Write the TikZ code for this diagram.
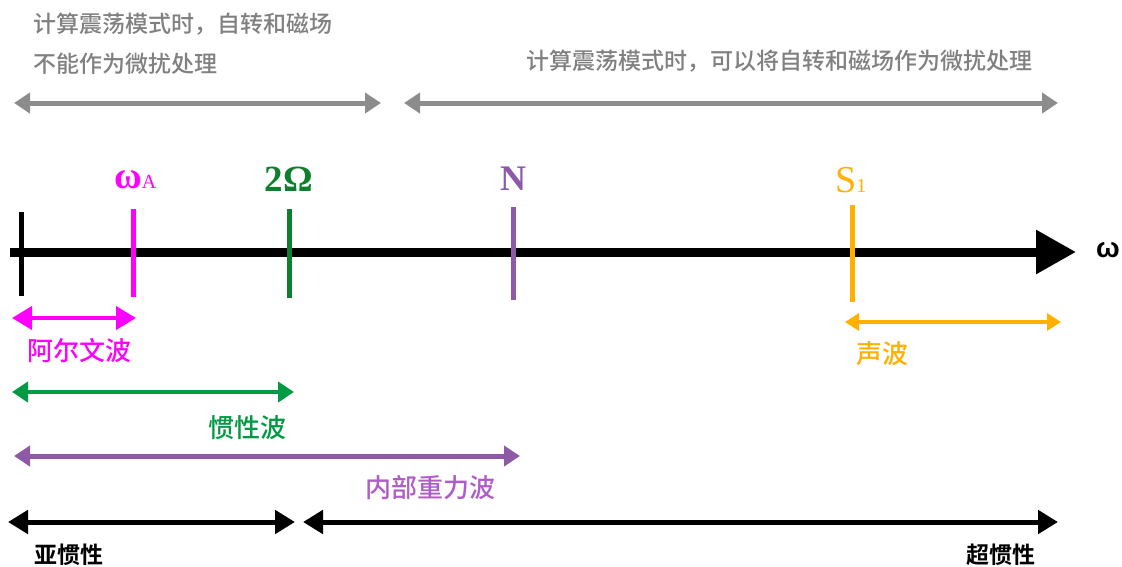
\documentclass[tikz,border=0pt]{standalone}
\usepackage{fontspec}
\setmainfont{Liberation Serif}
\newfontfamily\cjk{Noto Sans CJK SC}[UprightFont={* Medium},BoldFont={* Bold}]
\newfontfamily\lsans{Liberation Sans}
\usetikzlibrary{arrows.meta}
\definecolor{greytxt}{HTML}{808080}
\definecolor{greyarr}{HTML}{8C8C8C}
\definecolor{mag}{HTML}{FF00FF}
\definecolor{grn}{HTML}{0E7F2C}
\definecolor{grnarr}{HTML}{009A44}
\definecolor{pur}{HTML}{8E5AA8}
\definecolor{purtxt}{HTML}{B05CC8}
\definecolor{org}{HTML}{FFB000}
\begin{document}
\begin{tikzpicture}[x=1pt,y=-1pt,
  cjklab/.style={inner sep=0pt,anchor=west,font=\cjk\fontsize{26}{26}\selectfont},
  greylab/.style={inner sep=0pt,anchor=west,text=greytxt,font=\cjk\fontsize{23}{23}\selectfont},
  blacklab/.style={inner sep=0pt,anchor=west,font=\cjk\bfseries\fontsize{23}{23}\selectfont},
  ticklab/.style={inner sep=0pt,font=\fontsize{38}{38}\selectfont},
  tickline/.style={line width=5pt},
  span/.style={line width=#1},
  tipS/.style={arrows={Triangle[length=16pt,width=20pt]-Triangle[length=16pt,width=20pt]}},
  tipM/.style={arrows={Triangle[length=20pt,width=23pt]-Triangle[length=20pt,width=23pt]}},
  tipO/.style={arrows={Triangle[length=14pt,width=17pt]-Triangle[length=14pt,width=17pt]}}
]
\useasboundingbox (0,0) rectangle (1122,566);

% grey header texts
\node[greylab] (g1) at (33,24) {计算震荡模式时，自转和磁场};
\node[greylab] (g2) at (33,64) {不能作为微扰处理};
\node[greylab] (g3) at (526,61) {计算震荡模式时，可以将自转和磁场作为微扰处理};

% grey arrows
\coordinate (ga1) at (14,103);
\coordinate (ga2) at (381,103);
\coordinate (gb1) at (404,103);
\coordinate (gb2) at (1058,103);
\draw[span=5pt,greyarr,tipS] (ga1) -- (ga2);
\draw[span=5pt,greyarr,tipS] (gb1) -- (gb2);

% main axis
\coordinate (ax0) at (10,252);
\coordinate (ax1) at (1076,252);
\draw[line width=9pt,arrows={-Triangle[length=40pt,width=42pt]}] (ax0) -- (ax1);
\node[inner sep=0pt,font=\lsans\bfseries\fontsize{28}{28}\selectfont] (om) at (1108,250) {ω};

% ticks
\coordinate (t0a) at (21,212); \coordinate (t0b) at (21,296);
\coordinate (t1a) at (133,209); \coordinate (t1b) at (133,297);
\coordinate (t2a) at (289,209); \coordinate (t2b) at (289,298);
\coordinate (t3a) at (513,207); \coordinate (t3b) at (513,300);
\coordinate (t4a) at (852,205); \coordinate (t4b) at (852,302);
\draw[tickline,black] (t0a) -- (t0b);
\draw[tickline,mag] (t1a) -- (t1b);
\draw[tickline,grn] (t2a) -- (t2b);
\draw[tickline,pur] (t3a) -- (t3b);
\draw[tickline,org] (t4a) -- (t4b);

% tick labels
\node[ticklab,text=mag,anchor=base west] (wA) at (114,188) {\textbf{ω}\fontsize{20}{20}\selectfont A};
\node[ticklab,text=grn,anchor=base,font=\bfseries\fontsize{37}{37}\selectfont] (Om) at (289,191) {2Ω};
\node[ticklab,text=pur,anchor=base,font=\bfseries\fontsize{36}{36}\selectfont] (Nl) at (513,190) {N};
\node[ticklab,text=org,anchor=base west] (S1) at (835,192) {S\fontsize{20}{20}\selectfont 1};

% Alfven
\coordinate (a1) at (12,318); \coordinate (a2) at (136,318);
\draw[span=4pt,mag,tipM] (a1) -- (a2);
\node[cjklab,text=mag] (alf) at (27,351) {阿尔文波};

% sound
\coordinate (s1) at (845,322); \coordinate (s2) at (1061,322);
\draw[span=4pt,org,tipO] (s1) -- (s2);
\node[cjklab,text=org] (snd) at (856,354) {声波};

% inertial
\coordinate (i1) at (12,392); \coordinate (i2) at (294,392);
\draw[span=4pt,grnarr,tipS] (i1) -- (i2);
\node[cjklab,text=grnarr] (inr) at (208,428) {惯性波};

% internal gravity
\coordinate (p1) at (14,456); \coordinate (p2) at (520,456);
\draw[span=5pt,pur,tipS] (p1) -- (p2);
\node[cjklab,text=purtxt] (igw) at (365,488) {内部重力波};

% sub/super inertial
\coordinate (b1) at (8,522); \coordinate (b2) at (295,522);
\coordinate (c1) at (303,522); \coordinate (c2) at (1058,522);
\draw[span=5pt,black,tipM] (b1) -- (b2);
\draw[span=5pt,black,tipM] (c1) -- (c2);
\node[blacklab] (sub) at (34,555) {亚惯性};
\node[blacklab] (sup) at (966,555) {超惯性};
\end{tikzpicture}
\end{document}
